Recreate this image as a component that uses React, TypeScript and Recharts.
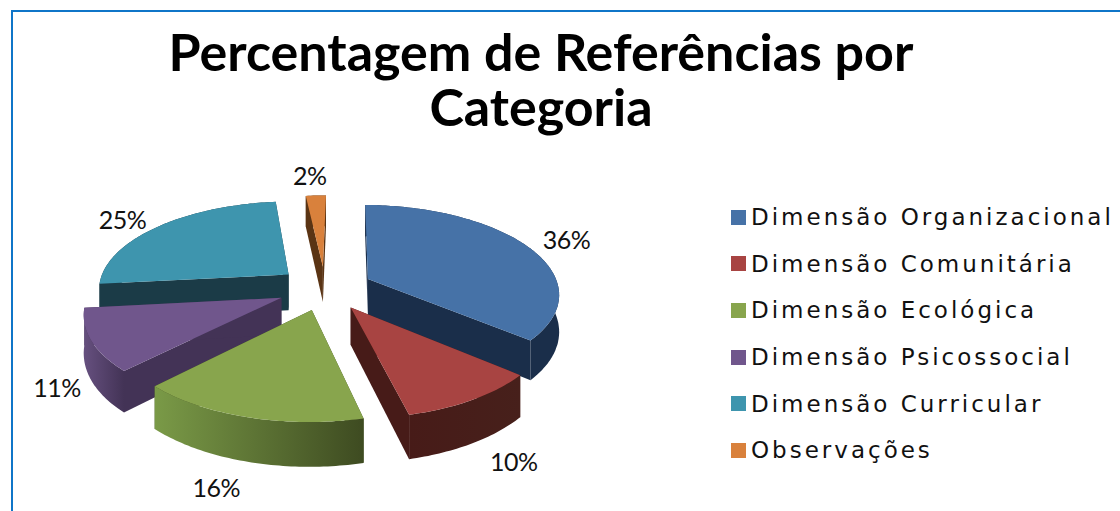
import { Legend, Pie, PieChart } from "recharts";

const categories = [
  "Dimensão Organizacional",
  "Dimensão Comunitária",
  "Dimensão Ecológica",
  "Dimensão Psicossocial",
  "Dimensão Curricular",
  "Observações",
];
const percentages = [36, 10, 16, 11, 25, 2];
const topColors = ["#4672A7", "#A84442", "#88A54D", "#70568C", "#3E95AE", "#D9813C"];
const wallColors = ["#1A2E4A", "#471B18", "#3E4B21", "#433356", "#1B3B47", "#5A3414"];
const rimLeftColors = ["#1A2E4A", "#471B18", "#7A9A47", "#66507F", "#1B3B47", "#5A3414"];
const rimRightColors = ["#1A2E4A", "#47201B", "#3E4B21", "#433356", "#1B3B47", "#5A3414"];
// back to front
const paintOrder = [5, 4, 0, 3, 1, 2];
// hand placed, Excel does not keep these on a clean radius
const labelNudgeX = [14, 16, -18, 1, -16, -5];
const labelNudgeY = [-2, -2, 2, -2, 0, -10];

const rows = categories.map((name, i) => ({
  name,
  value: percentages[i],
  fill: topColors[i],
}));

const TILT = 0.46;
const PERSPECTIVE = 0.15;
const EXPLODE = 0.25;
const DEPTH = 36.5;
const LABEL_FONT = "Lato, 'Liberation Sans', sans-serif";

const rad = (deg: number) => (deg * Math.PI) / 180;

function project(cx: number, cy: number, r: number, a: number, b: number, drop = 0) {
  const s = 1 / (1 - PERSPECTIVE * b);
  return [cx + r * a * s, cy + r * TILT * b * s + DEPTH * s * drop];
}

const toPath = (pts: number[][]) =>
  pts.map((p, i) => `${i ? "L" : "M"}${p[0].toFixed(1)} ${p[1].toFixed(1)}`).join(" ") + " Z";

function Slice3D(props: any) {
  const { cx, cy, outerRadius: r, startAngle, endAngle, midAngle, name } = props;
  const i = categories.indexOf(name);
  // recharts angles run counter-clockwise from 3 o'clock, turn into clockwise from 12
  const from = 90 - startAngle;
  const to = 90 - endAngle;
  const mid = rad(90 - midAngle);
  const ox = EXPLODE * Math.sin(mid);
  const oy = -EXPLODE * Math.cos(mid);

  const at = (deg: number, drop = 0) =>
    project(cx, cy, r, ox + Math.sin(rad(deg)), oy - Math.cos(rad(deg)), drop);
  const apex = (drop = 0) => project(cx, cy, r, ox, oy, drop);

  const steps = Math.max(2, Math.ceil(to - from));
  const arc: number[] = [];
  for (let k = 0; k <= steps; k++) arc.push(from + ((to - from) * k) / steps);

  const top = [apex(), ...arc.map((d) => at(d))];
  const rim = [...arc.map((d) => at(d)), ...arc.slice().reverse().map((d) => at(d, 1))];
  const wall = (deg: number) => [apex(), at(deg), at(deg, 1), apex(1)];

  const xs = rim.map((p) => p[0]);
  const gradId = `rim-${i}`;

  return (
    <g>
      <defs>
        <linearGradient
          id={gradId}
          gradientUnits="userSpaceOnUse"
          x1={Math.min(...xs)}
          x2={Math.max(...xs)}
          y1={0}
          y2={0}
        >
          <stop offset="0%" stopColor={rimLeftColors[i]} />
          <stop offset="100%" stopColor={rimRightColors[i]} />
        </linearGradient>
      </defs>
      <path d={toPath(wall(from))} fill={wallColors[i]} />
      <path d={toPath(wall(to))} fill={wallColors[i]} />
      <path d={toPath(rim)} fill={`url(#${gradId})`} />
      <path d={toPath(top)} fill={topColors[i]} />
    </g>
  );
}

function PercentLabel(props: any) {
  const { cx, cy, outerRadius: r, midAngle, value, name } = props;
  const i = categories.indexOf(name);
  const mid = rad(90 - midAngle);
  const reach = EXPLODE + 1.17;
  const a = reach * Math.sin(mid);
  const b = -reach * Math.cos(mid);
  const [x, y] = project(cx, cy, r, a, b, b > 0 ? 1 : 0);
  return (
    <text
      x={x + labelNudgeX[i]}
      y={y + labelNudgeY[i]}
      textAnchor="middle"
      dominantBaseline="central"
      fontFamily={LABEL_FONT}
      fontSize={25}
      letterSpacing={-0.5}
      fill="#111"
    >
      {value}%
    </text>
  );
}

function LegendList() {
  return (
    <div style={{ fontFamily: "'DejaVu Sans', sans-serif", fontSize: 23, color: "#111" }}>
      {categories.map((name, i) => (
        <div key={name} style={{ display: "flex", alignItems: "center", height: 46.6, whiteSpace: "nowrap" }}>
          <span style={{ width: 15, height: 15, background: topColors[i], marginRight: 5 }} />
          <span style={{ letterSpacing: 3 }}>{name}</span>
        </div>
      ))}
    </div>
  );
}

export default function App() {
  return (
    <div style={{ position: "absolute", left: 0, top: 0, width: 1120, height: 511, overflow: "hidden", background: "#fff" }}>
      <div
        style={{
          position: "absolute",
          left: 11,
          top: 10,
          width: 1120,
          height: 520,
          borderTop: "2px solid #0F75C8",
          borderLeft: "2px solid #0F75C8",
        }}
      />
      <div
        style={{
          position: "absolute",
          left: 141,
          top: 24,
          width: 800,
          textAlign: "center",
          fontFamily: "Lato, sans-serif",
          fontWeight: 700,
          fontSize: 52,
          lineHeight: "55px",
          color: "#000",
        }}
      >
        Percentagem de Referências por
        <br />
        Categoria
      </div>
      <PieChart width={1120} height={511} style={{ position: "absolute", left: 0, top: 0 }}>
        {paintOrder.map((idx, layer) => (
          <Pie
            key={idx}
            data={rows}
            dataKey="value"
            nameKey="name"
            cx={320}
            cy={283}
            outerRadius={191}
            startAngle={89}
            endAngle={-271}
            legendType="none"
            isAnimationActive={false}
            labelLine={false}
            label={layer === paintOrder.length - 1 ? PercentLabel : false}
            shape={(p: any) => (p.name === categories[idx] ? <Slice3D {...p} /> : <g />)}
          />
        ))}
        <Legend
          layout="vertical"
          content={LegendList}
          wrapperStyle={{ left: 731, top: 194, width: 389, bottom: "auto", right: "auto" }}
        />
      </PieChart>
    </div>
  );
}
